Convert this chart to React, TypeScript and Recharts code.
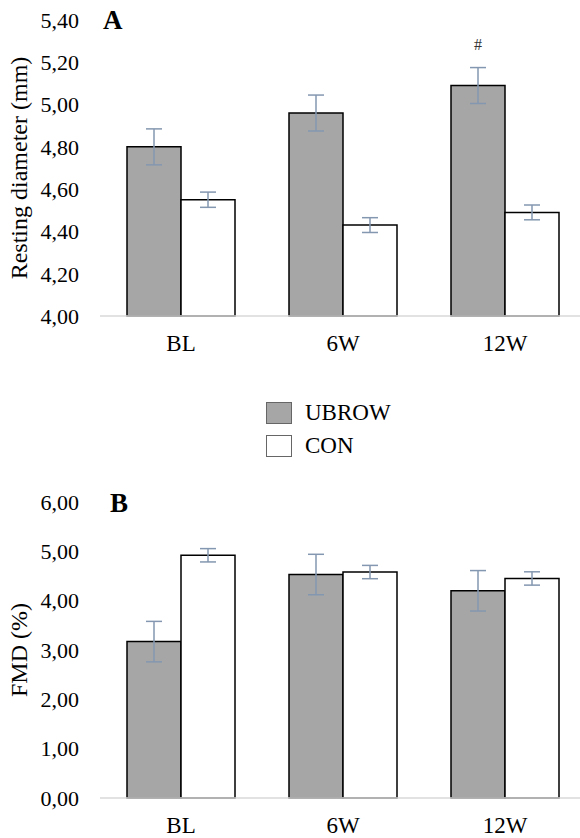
import React from "react";
import { BarChart, Bar, XAxis, YAxis, ErrorBar, LabelList } from "recharts";

const categories = ["BL", "6W", "12W"];

// Panel A: resting diameter (mm)
const diamUbrow = [4.8, 4.96, 5.09];
const diamUbrowErr = [0.085, 0.085, 0.085];
const diamCon = [4.55, 4.43, 4.49];
const diamConErr = [0.036, 0.035, 0.035];
const diamMarks = ["", "", "#"];
const diamTicks = [4.0, 4.2, 4.4, 4.6, 4.8, 5.0, 5.2, 5.4];

// Panel B: FMD (%)
const fmdUbrow = [3.17, 4.53, 4.2];
const fmdUbrowErr = [0.41, 0.41, 0.41];
const fmdCon = [4.92, 4.58, 4.45];
const fmdConErr = [0.135, 0.135, 0.135];
const fmdTicks = [0, 1, 2, 3, 4, 5, 6];

const FONT = "'Liberation Serif', 'Times New Roman', 'DejaVu Serif', serif";
const GRAY = "#a6a6a6";
const ERR = "#8497b0";

const diamData = categories.map((c, i) => ({
  name: c,
  ubrow: diamUbrow[i],
  ubrowErr: diamUbrowErr[i],
  con: diamCon[i],
  conErr: diamConErr[i],
  mark: diamMarks[i],
}));

const fmdData = categories.map((c, i) => ({
  name: c,
  ubrow: fmdUbrow[i],
  ubrowErr: fmdUbrowErr[i],
  con: fmdCon[i],
  conErr: fmdConErr[i],
}));

const fmt = (v: number) => v.toFixed(2).replace(".", ",");
const yTickStyle = { fill: "#000", fontSize: 22, fontFamily: FONT };
const xTickStyle = { fill: "#000", fontSize: 23, fontFamily: FONT };

function Panel({ data, domain, ticks, label, top, height, withMark }: any) {
  return (
    <div style={{ position: "absolute", left: 0, top }}>
      <BarChart
        width={600}
        height={height}
        data={data}
        margin={{ top: 20, right: 14, left: 0, bottom: height - 20 - 296 - 30 }}
        barGap={0}
        barSize={54}
      >
        <XAxis
          dataKey="name"
          height={30}
          axisLine={{ stroke: "#d9d9d9", strokeWidth: 1.5 }}
          tickLine={false}
          tickSize={0}
          tickMargin={19}
          tick={xTickStyle}
        />
        <YAxis
          width={100}
          domain={domain}
          ticks={ticks}
          interval={0}
          axisLine={false}
          tickLine={false}
          tickSize={0}
          tickMargin={21}
          tickFormatter={fmt}
          tick={yTickStyle}
          label={{
            value: label,
            angle: -90,
            position: "center",
            dx: -32,
            style: { fill: "#000", fontSize: 24, fontFamily: FONT },
          }}
        />
        {/* grey bars for the training group */}
        <Bar dataKey="ubrow" fill={GRAY} stroke="#000" strokeWidth={1.5} isAnimationActive={false}>
          <ErrorBar dataKey="ubrowErr" direction="y" width={8} stroke={ERR} strokeWidth={1.5} isAnimationActive={false} />
          {withMark && (
            <LabelList
              dataKey="mark"
              position="top"
              offset={36}
              style={{ fill: "#333", fontSize: 16, fontFamily: FONT }}
            />
          )}
        </Bar>
        {/* white bars for the controls */}
        <Bar dataKey="con" fill="#fff" stroke="#000" strokeWidth={1.5} isAnimationActive={false}>
          <ErrorBar dataKey="conErr" direction="y" width={8} stroke={ERR} strokeWidth={1.5} isAnimationActive={false} />
        </Bar>
      </BarChart>
    </div>
  );
}

const titleStyle: React.CSSProperties = {
  position: "absolute",
  fontFamily: FONT,
  fontWeight: "bold",
  fontSize: 27,
  lineHeight: 1,
  color: "#000",
};

function LegendRow({ top, fill, text }: { top: number; fill: string; text: string }) {
  return (
    <div style={{ position: "absolute", left: 266, top, display: "flex", alignItems: "center", height: 22 }}>
      <div style={{ width: 24, height: 20, background: fill, border: "1px solid #666" }} />
      <span style={{ marginLeft: 13, fontFamily: FONT, fontSize: 23, color: "#000" }}>{text}</span>
    </div>
  );
}

export default function App() {
  return (
    <div
      style={{
        position: "absolute",
        left: 0,
        top: 0,
        width: 580,
        height: 838,
        overflow: "hidden",
        background: "#fff",
      }}
    >
      <Panel data={diamData} domain={[4, 5.4]} ticks={diamTicks} label="Resting diameter (mm)" top={0} height={360} withMark />
      <Panel data={fmdData} domain={[0, 6]} ticks={fmdTicks} label="FMD (%)" top={482} height={356} />
      <div style={{ ...titleStyle, left: 103, top: 7 }}>A</div>
      <div style={{ ...titleStyle, left: 110, top: 490 }}>B</div>
      <LegendRow top={402} fill={GRAY} text="UBROW" />
      <LegendRow top={435} fill="#fff" text="CON" />
    </div>
  );
}
